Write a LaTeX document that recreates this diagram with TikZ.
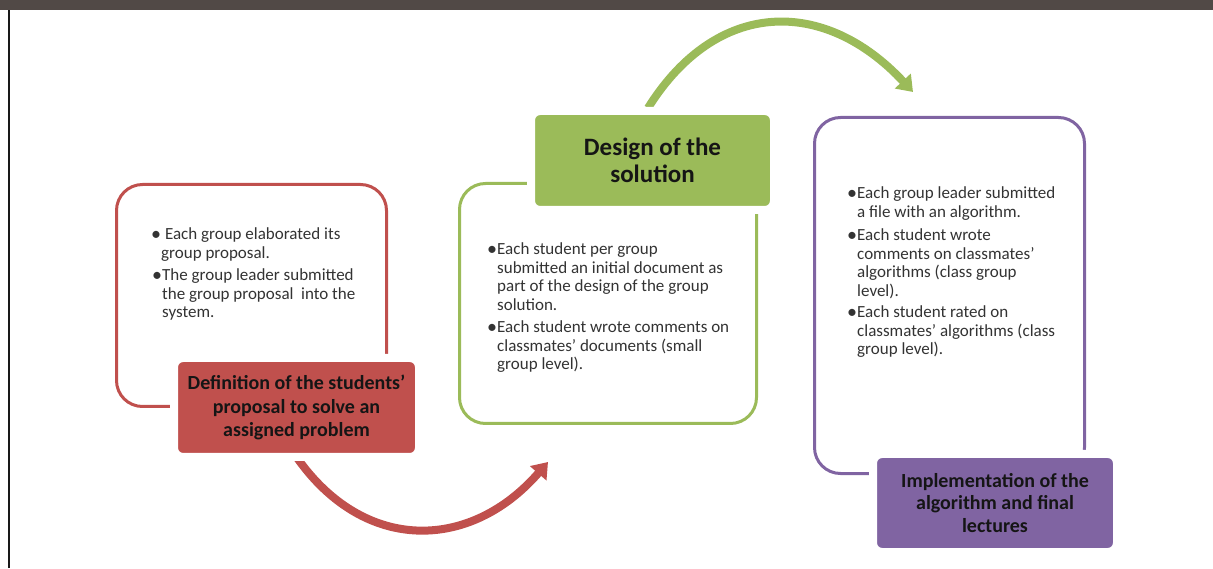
\documentclass[tikz,border=0pt]{standalone}
\usepackage{fontspec}
\setmainfont{Carlito}
\usetikzlibrary{arrows.meta,calc}
\definecolor{cred}{HTML}{C0504D}
\definecolor{cgreen}{HTML}{9BBB59}
\definecolor{cpurple}{HTML}{8064A2}
\definecolor{band}{HTML}{514946}
\definecolor{txt}{HTML}{333333}
\definecolor{ttl}{HTML}{151515}
\newcommand{\bigbul}{\makebox[6pt][l]{\hspace*{-3.2pt}\raisebox{-0.8pt}{\fontsize{20}{18}\selectfont\textbullet}}}
\newcommand{\blist}[1]{\begin{tabular}[t]{@{}p{7pt}@{}l@{}}\bigbul & #1\end{tabular}}
\begin{document}
\begin{tikzpicture}[x=1pt,y=1pt,
  frame/.style={draw=#1, line width=3pt, rounded corners=26pt, fill=white, inner sep=0pt, outer sep=0pt},
  titlebox/.style={fill=#1, draw=white, line width=8pt, rounded corners=9pt, text=ttl, align=center, inner sep=0pt, outer sep=0pt},
  body/.style={anchor=base west, inner sep=0pt, text=txt, font=\fontsize{17}{18.7}\selectfont},
  flow/.style={draw=#1, line width=8pt, -{Triangle[length=15pt,width=21pt]}}
]
\useasboundingbox (0,0) rectangle (1213,568);
% top band and left rule
\fill[band] (0,558) rectangle (1213,568);
\draw[line width=2.5pt, black!90] (9,0) -- (9,558);

% outline frames
\node[frame=cred, minimum width=270pt, minimum height=222pt] (rframe) at (251.5,272.5) {};
\node[frame=cgreen, minimum width=297pt, minimum height=240pt] (gframe) at (608,264.5) {};
\node[frame=cpurple, minimum width=270pt, minimum height=356pt] (pframe) at (949.5,272.5) {};

% arrow end points
\coordinate (rtS) at (296.5,111);
\coordinate (gtN) at (648,460);
\coordinate (redend) at (548,106);
\coordinate (greenend) at (913,476);

% arrows
\draw[flow=cred] (rtS) to[out=-55, in=-131, looseness=1.2] (redend);
\draw[flow=cgreen] (gtN) to[out=58, in=133, looseness=1.25] (greenend);

% title boxes
\node[titlebox=cred, minimum width=245pt, minimum height=99pt, font=\fontsize{20}{23.5}\selectfont\bfseries] (rt) at (296.5,160.5)
  {Definition of the students’\\proposal to solve an\\assigned problem};
\node[titlebox=cgreen, minimum width=243pt, minimum height=99pt, font=\fontsize{25}{27}\selectfont\bfseries] (gt) at (652.5,407.5)
  {Design of the\\solution};
\node[titlebox=cpurple, minimum width=244pt, minimum height=98pt, font=\fontsize{20}{22.5}\selectfont\bfseries] (pt) at (995,65)
  {Implementation of the\\algorithm and final\\lectures};

% bullets: red
\node[body] (rb1) at (154,328.5) {\blist{\ Each group elaborated its\\ & group proposal.}};
\node[body] (rb2) at (155,287.5) {\blist{The group leader submitted\\ & the group proposal\ \ into the\\ & system.}};
% bullets: green
\node[body] (gb1) at (490,313.5) {\blist{Each student per group\\ & submitted an initial document as\\ & part of the design of the group\\ & solution.}};
\node[body] (gb2) at (490,235.5) {\blist{Each student wrote comments on\\ & classmates’ documents (small\\ & group level).}};
% bullets: purple
\node[body] (pb1) at (850,369) {\blist{Each group leader submitted\\ & a file with an algorithm.}};
\node[body] (pb2) at (850,327.5) {\blist{Each student wrote\\ & comments on classmates’\\ & algorithms (class group\\ & level).}};
\node[body] (pb3) at (850,250.5) {\blist{Each student rated on\\ & classmates’ algorithms (class\\ & group level).}};
\end{tikzpicture}
\end{document}
